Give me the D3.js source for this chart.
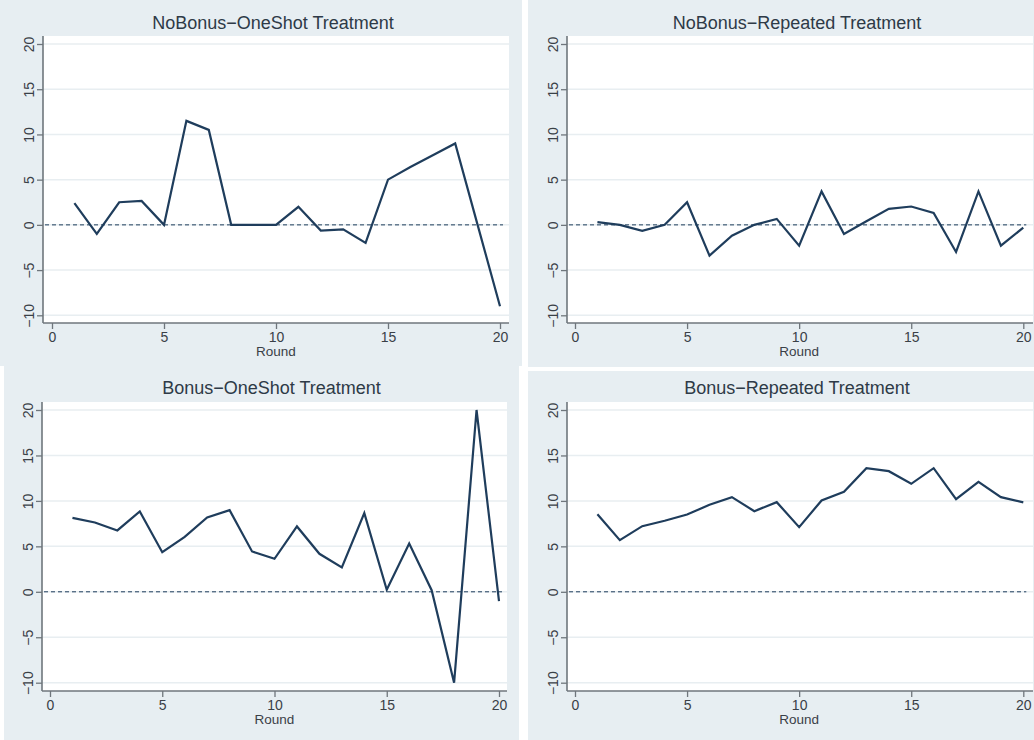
<!DOCTYPE html>
<html>
<head>
<meta charset="utf-8">
<script src="https://cdn.jsdelivr.net/npm/d3@7"></script>
<style>
  html, body { margin: 0; padding: 0; background: #ffffff; }
  svg { display: block; }
  text { font-family: "Liberation Sans", Arial, sans-serif; }
</style>
</head>
<body>
<svg id="chart" width="1034" height="740"></svg>
<script>
// Rounds of the experiment (x axis)
const rounds = [1, 2, 3, 4, 5, 6, 7, 8, 9, 10, 11, 12, 13, 14, 15, 16, 17, 18, 19, 20];

// Mean value per round for each treatment
const noBonusOneShot  = [2.4, -1.0, 2.5, 2.65, 0.0, 11.5, 10.5, 0.0, 0.0, 0.0, 2.0, -0.63, -0.5, -2.0, 5.0, 6.4, 7.7, 9.0, 0.0, -9.0];
const noBonusRepeated = [0.3, 0.0, -0.66, 0.0, 2.5, -3.4, -1.2, 0.0, 0.66, -2.3, 3.7, -1.0, 0.4, 1.77, 2.03, 1.33, -3.0, 3.7, -2.3, -0.3];
const bonusOneShot    = [8.14, 7.63, 6.75, 8.84, 4.36, 6.05, 8.18, 8.98, 4.44, 3.63, 7.19, 4.18, 2.68, 8.65, 0.22, 5.32, 0.18, -10.0, 20.0, -1.03];
const bonusRepeated   = [8.54, 5.68, 7.22, 7.81, 8.5, 9.57, 10.41, 8.87, 9.86, 7.11, 10.05, 11.0, 13.6, 13.27, 11.88, 13.6, 10.19, 12.1, 10.41, 9.83];

// Panel titles and axis ticks
const titles = ["NoBonus\u2212OneShot Treatment", "NoBonus\u2212Repeated Treatment",
                "Bonus\u2212OneShot Treatment", "Bonus\u2212Repeated Treatment"];
const xTicks = [0, 5, 10, 15, 20];
const yTicks = [-10, -5, 0, 5, 10, 15, 20];
const xLabel = "Round";

const series = [noBonusOneShot, noBonusRepeated, bonusOneShot, bonusRepeated];

// Layout of the four panels
const layout = [
  { bg: [0, 0, 522, 366],   plot: [43, 36, 509, 323],  x0: 52,  x20: 500,    y20: 44,  yM10: 315.3, titleY: 28.5 },
  { bg: [528, 0, 506, 367], plot: [567, 36, 1033, 323], x0: 575, x20: 1023.3, y20: 44,  yM10: 315.3, titleY: 28.5 },
  { bg: [4, 366, 515, 374], plot: [42, 402, 507, 691], x0: 50,  x20: 499,    y20: 410, yM10: 682.7, titleY: 393.5 },
  { bg: [528, 371, 506, 369], plot: [567, 402, 1033, 691], x0: 575, x20: 1023.3, y20: 410, yM10: 682.7, titleY: 393.5 }
];

const colors = {
  bg: "#e7eef2",
  plot: "#ffffff",
  grid: "#e8eef1",
  axis: "#6f767c",
  text: "#3a4047",
  title: "#2e3a47",
  line: "#1f3d5c"
};

const svg = d3.select("#chart");

layout.forEach((L, i) => {
  const data = rounds.map((r, k) => ({ round: r, value: series[i][k] }));
  const [pl, pt, pr, pb] = L.plot;

  const x = d3.scaleLinear().domain([0, 20]).range([L.x0, L.x20]);
  const y = d3.scaleLinear().domain([-10, 20]).range([L.yM10, L.y20]);

  const g = svg.append("g");

  // panel background
  g.append("rect")
    .attr("x", L.bg[0]).attr("y", L.bg[1])
    .attr("width", L.bg[2]).attr("height", L.bg[3])
    .attr("fill", colors.bg);

  // plot region
  g.append("rect")
    .attr("x", pl).attr("y", pt)
    .attr("width", pr - pl).attr("height", pb - pt)
    .attr("fill", colors.plot);

  // horizontal grid lines
  g.selectAll(".grid").data(yTicks).join("line")
    .attr("x1", pl).attr("x2", pr)
    .attr("y1", d => y(d)).attr("y2", d => y(d))
    .attr("stroke", colors.grid).attr("stroke-width", 1.5);

  // title
  g.append("text")
    .attr("x", (pl + pr) / 2 - 3).attr("y", L.titleY)
    .attr("text-anchor", "middle")
    .attr("font-size", 18)
    .attr("fill", colors.title)
    .text(titles[i]);

  // y axis
  const yAxis = g.append("g").attr("transform", `translate(${pl},0)`)
    .call(d3.axisLeft(y).tickValues(yTicks).tickSize(6).tickPadding(3)
      .tickFormat(d => d < 0 ? "\u2212" + Math.abs(d) : String(d)));
  yAxis.select(".domain").remove();
  yAxis.selectAll(".tick line").attr("stroke", colors.axis).attr("stroke-width", 1.3);
  yAxis.selectAll(".tick text")
    .attr("fill", colors.text).attr("font-size", 14)
    .attr("font-family", "\"Liberation Sans\", Arial, sans-serif")
    .attr("text-anchor", "middle")
    .attr("dy", 0)
    .attr("transform", "rotate(-90)")
    .attr("x", 0).attr("y", -9);
  g.append("line")
    .attr("x1", pl).attr("x2", pl).attr("y1", pt).attr("y2", pb)
    .attr("stroke", colors.axis).attr("stroke-width", 1.6);

  // x axis
  const xAxis = g.append("g").attr("transform", `translate(0,${pb})`)
    .call(d3.axisBottom(x).tickValues(xTicks).tickSize(6).tickPadding(3));
  xAxis.select(".domain").remove();
  xAxis.selectAll(".tick line").attr("stroke", colors.axis).attr("stroke-width", 1.3);
  xAxis.selectAll(".tick text")
    .attr("fill", colors.text).attr("font-size", 14)
    .attr("font-family", "\"Liberation Sans\", Arial, sans-serif")
    .attr("dy", 0).attr("y", 19);
  g.append("line")
    .attr("x1", pl).attr("x2", pr).attr("y1", pb).attr("y2", pb)
    .attr("stroke", colors.axis).attr("stroke-width", 1.6);

  // x axis title
  g.append("text")
    .attr("x", x(10)).attr("y", pb + 33)
    .attr("text-anchor", "middle")
    .attr("font-size", 13.5)
    .attr("fill", colors.text)
    .text(xLabel);

  // zero reference line
  g.append("line")
    .attr("x1", pl + 2).attr("x2", x(20) + 3)
    .attr("y1", y(0)).attr("y2", y(0))
    .attr("stroke", colors.line).attr("stroke-width", 1)
    .attr("stroke-dasharray", "4,3");

  // series line
  g.append("path")
    .datum(data)
    .attr("fill", "none")
    .attr("stroke", colors.line)
    .attr("stroke-width", 2.2)
    .attr("stroke-linejoin", "miter")
    .attr("d", d3.line().x(d => x(d.round)).y(d => y(d.value)));
});
</script>
</body>
</html>
